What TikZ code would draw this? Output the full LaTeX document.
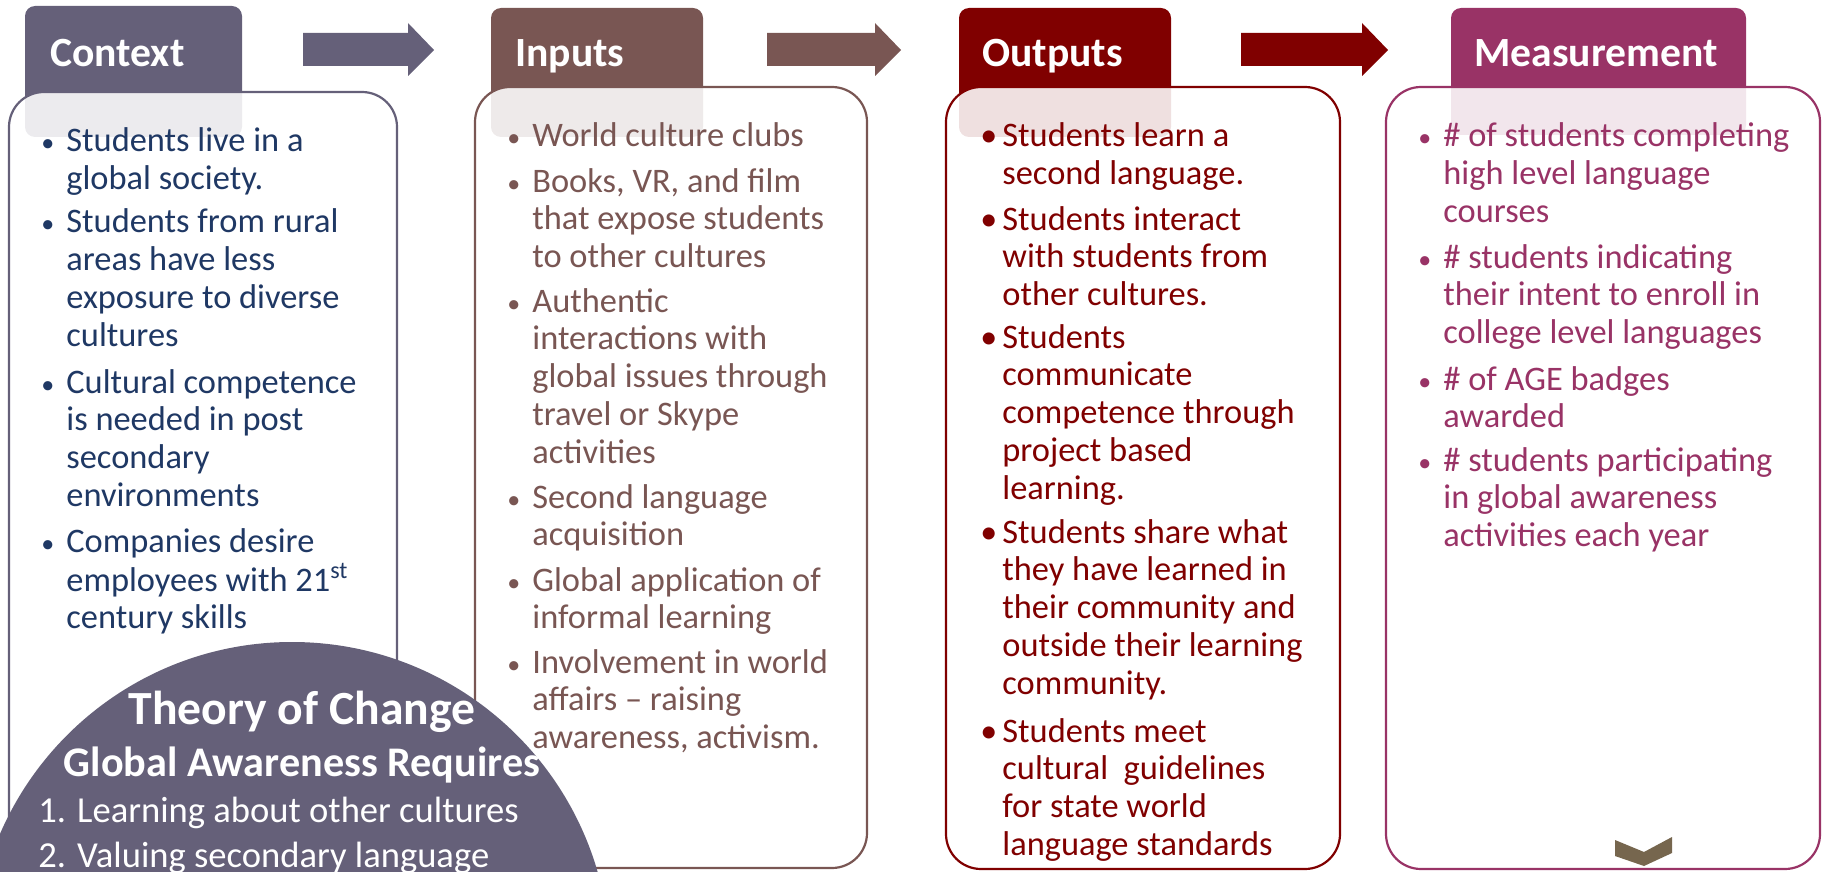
\documentclass[tikz,border=0pt]{standalone}
\usepackage{fontspec}
\setmainfont{Carlito}
\definecolor{ctxc}{HTML}{656079}
\definecolor{ctxt}{HTML}{1F3864}
\definecolor{inpc}{HTML}{795653}
\definecolor{outc}{HTML}{800000}
\definecolor{mesc}{HTML}{993366}
\definecolor{chev}{HTML}{76664E}
\newcommand\bulS{\llap{{\fontsize{13}{13}\selectfont •}\hspace{6pt}}}
\newcommand\bulL{\llap{{\fontsize{17}{17}\selectfont •}\hspace{2.5pt}}}
\newcommand\paralines[1]{\begin{tabular}[t]{@{}l@{}}#1\end{tabular}}
\begin{document}
\begin{tikzpicture}[x=0.5pt,y=-0.5pt,
  hdr/.style={fill=#1, rounded corners=5pt},
  body/.style={draw=#1, line width=1.1pt, fill=white, fill opacity=0.88, rounded corners=17.5pt},
  flow/.style={fill=#1},
  htext/.style={anchor=base west, text=white, inner sep=0pt, font=\fontsize{20.8}{25}\selectfont\bfseries},
  btext/.style={anchor=base west, text=#1, inner sep=0pt, font=\fontsize{17.2}{18.9}\selectfont},
  ctext/.style={text=white, inner sep=0pt},
]
\useasboundingbox (0,0) rectangle (1822,872);
\clip (0,0) rectangle (1822,872);

% headers
\fill[hdr=ctxc] (25,6) rectangle (242,137);
\fill[hdr=inpc] (491,8) rectangle (703,137);
\fill[hdr=outc] (959,8) rectangle (1171,137);
\fill[hdr=mesc] (1451,8) rectangle (1746,135);

% bodies
\path[body=ctxc] (9,92) rectangle (397,900);
\path[body=inpc] (475,87) rectangle (867,868);
\path[body=outc] (946,87) rectangle (1340,869);
\path[body=mesc] (1386,87) rectangle (1820,869);

% flow arrows
\fill[flow=ctxc] (303,33) -- (408,33) -- (408,23) -- (434,50) -- (408,76) -- (408,66) -- (303,66) -- cycle;
\fill[flow=inpc] (767,33) -- (875,33) -- (875,23) -- (901,50) -- (875,76) -- (875,66) -- (767,66) -- cycle;
\fill[flow=outc] (1241,33) -- (1362,33) -- (1362,23) -- (1388,50) -- (1362,76) -- (1362,66) -- (1241,66) -- cycle;

% header texts
\node[htext] (hctx) at (50,67) {Context};
\node[htext] (hinp) at (515,67) {Inputs};
\node[htext] (hout) at (982,67) {Outputs};
\node[htext] (hmes) at (1474,67) {Measurement};

% context texts
\node[btext=ctxt] (c1) at (66,152) {\paralines{\bulS Students live in a\\global society.}};
\node[btext=ctxt] (c2) at (66,233) {\paralines{\bulS Students from rural\\areas have less\\exposure to diverse\\cultures}};
\node[btext=ctxt] (c3) at (66,393) {\paralines{\bulS Cultural competence\\is needed in post\\secondary\\environments}};
\node[btext=ctxt] (c4) at (66,552) {\paralines{\bulS Companies desire\\employees with 21\textsuperscript{st}\\century skills}};

% theory of change circle
\fill[ctxc] (292,960) circle [radius=159pt];
\node[ctext, anchor=base, font=\fontsize{23.8}{28}\selectfont\bfseries] (t1) at (302,724) {Theory of Change};
\node[ctext, anchor=base, font=\fontsize{21.1}{25}\selectfont\bfseries] (t2) at (302,776) {Global Awareness Requires};
\node[ctext, anchor=base west, font=\fontsize{18.3}{22}\selectfont] (t3) at (38,822) {1. Learning about other cultures};
\node[ctext, anchor=base west, font=\fontsize{18.3}{22}\selectfont] (t4) at (38,867) {2. Valuing secondary language};

% inputs texts
\node[btext=inpc] (i1) at (532,147) {\paralines{\bulS World culture clubs}};
\node[btext=inpc] (i2) at (532,192) {\paralines{\bulS Books, VR, and film\\that expose students\\to other cultures}};
\node[btext=inpc] (i3) at (532,312) {\paralines{\bulS Authentic\\interactions with\\global issues through\\travel or Skype\\activities}};
\node[btext=inpc] (i4) at (532,508) {\paralines{\bulS Second language\\acquisition}};
\node[btext=inpc] (i5) at (532,591) {\paralines{\bulS Global application of\\informal learning}};
\node[btext=inpc] (i6) at (532,673) {\paralines{\bulS Involvement in world\\affairs – raising\\awareness, activism.}};

% outputs texts
\node[btext=outc] (o1) at (1002,147) {\paralines{\bulL Students learn a\\second language.}};
\node[btext=outc] (o2) at (1002,230) {\paralines{\bulL Students interact\\with students from\\other cultures.}};
\node[btext=outc] (o3) at (1002,348) {\paralines{\bulL Students\\communicate\\competence through\\project based\\learning.}};
\node[btext=outc] (o4) at (1002,543) {\paralines{\bulL Students share what\\they have learned in\\their community and\\outside their learning\\community.}};
\node[btext=outc] (o5) at (1002,742) {\paralines{\bulL Students meet\\cultural\ \ guidelines\\for state world\\language standards}};

% measurement texts
\node[btext=mesc] (m1) at (1443,147) {\paralines{\bulS \# of students completing\\high level language\\courses}};
\node[btext=mesc] (m2) at (1443,268) {\paralines{\bulS \# students indicating\\their intent to enroll in\\college level languages}};
\node[btext=mesc] (m3) at (1443,390) {\paralines{\bulS \# of AGE badges\\awarded}};
\node[btext=mesc] (m4) at (1443,471) {\paralines{\bulS \# students participating\\in global awareness\\activities each year}};

% chevron
\fill[chev] (1615,840) -- (1644,852) -- (1672,837) -- (1672,853) -- (1644,866) -- (1615,856) -- cycle;
\end{tikzpicture}
\end{document}
